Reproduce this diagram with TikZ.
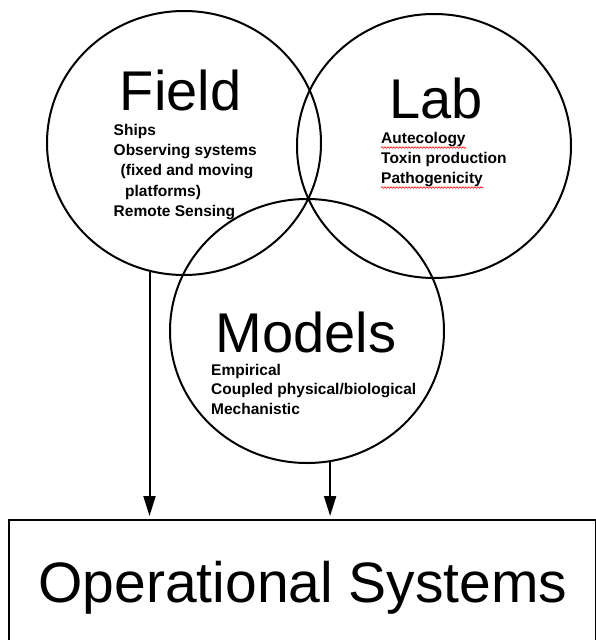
\documentclass[tikz,border=0pt]{standalone}
\usepackage{fontspec}
\setmainfont{Liberation Sans}
\usetikzlibrary{shapes.geometric,arrows.meta,decorations.pathmorphing}
\begin{document}
\begin{tikzpicture}[x=1pt,y=-1pt,
  venn/.style={draw, line width=2pt, ellipse, minimum width=274pt, minimum height=264pt, inner sep=0pt},
  title/.style={font=\fontsize{56}{60}\selectfont, inner sep=0pt, anchor=base},
  bigtitle/.style={font=\fontsize{57}{60}\selectfont, inner sep=0pt, anchor=base},
  item/.style={font=\fontsize{15.5}{18}\selectfont\bfseries, inner sep=0pt, anchor=base west},
  flow/.style={line width=2pt, -{Triangle[length=20pt,width=12pt]}, shorten >=3pt},
  squig/.style={red, line width=0.6pt, decorate, decoration={snake, amplitude=0.8pt, segment length=3pt}}]
\fill[white] (0,0) rectangle (596,640);
\useasboundingbox (0,0) rectangle (596,640);

% circles
\node[venn] (field) at (184,143) {};
\node[venn] (lab) at (434,146) {};
\node[venn] (models) at (307,331) {};

% box
\node[draw, line width=2pt, minimum width=587pt, minimum height=141pt, inner sep=0pt, anchor=north west] (ops) at (8,519) {};
\node[bigtitle] (opstext) at (303,602) {Operational Systems};

% titles
\node[title] (fieldtitle) at (180.5,110) {Field};
\node[title] (labtitle) at (436,118) {Lab};
\node[title] (modelstitle) at (306,352) {Models};

% field items
\node[item] (f1) at (113.5,135.5) {Ships};
\node[item] (f2) at (113.5,155.5) {Observing systems};
\node[item] (f3) at (120.5,175.5) {(fixed and moving};
\node[item] (f4) at (125,196) {platforms)};
\node[item] (f5) at (113.5,216) {Remote Sensing};

% lab items
\node[item] (l1) at (381,143.5) {Autecology};
\node[item] (l2) at (381,163.5) {Toxin production};
\node[item] (l3) at (381,183.5) {Pathogenicity};
\draw[squig] ([yshift=-4pt]l1.base west) -- ([yshift=-4pt]l1.base east);
\draw[squig] ([yshift=-4pt]l3.base west) -- ([yshift=-4pt]l3.base east);

% models items
\node[item] (m1) at (211,375) {Empirical};
\node[item] (m2) at (211,394.5) {Coupled physical/biological};
\node[item] (m3) at (211,414) {Mechanistic};

% arrows
\draw[flow] (field.255.5) -- (field.255.5 |- ops.north);
\draw[flow] (models.280.5) -- (models.280.5 |- ops.north);
\end{tikzpicture}
\end{document}
